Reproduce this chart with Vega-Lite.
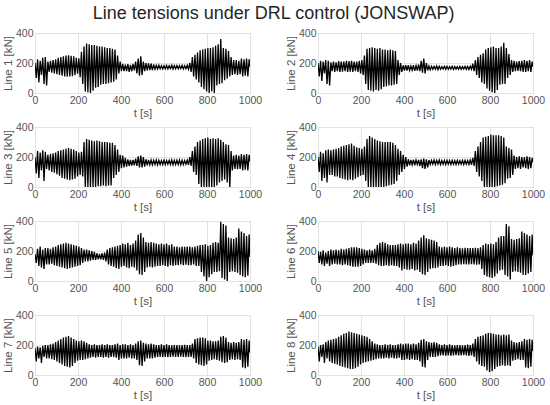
{
"$schema": "https://vega.github.io/schema/vega-lite/v6.json",
"padding": {"left": 1, "right": 5, "top": 4, "bottom": 5},
"title": {"text": "Line tensions under DRL control (JONSWAP)", "fontSize": 18, "fontWeight": "normal", "color": "#262626", "font": "Liberation Sans", "anchor": "middle", "offset": 5},
"datasets": {"d": [
{"t":0,"l1":200,"l2":200,"l3":200,"l4":200,"l5":180,"l6":200,"l7":180,"l8":190},
{"t":6,"l1":100,"l2":110,"l3":90,"l4":100,"l5":120,"l6":120,"l7":90,"l8":90},
{"t":12,"l1":225,"l2":215,"l3":240,"l4":235,"l5":215,"l6":195,"l7":190,"l8":200},
{"t":18,"l1":70,"l2":80,"l3":60,"l4":40,"l5":100,"l6":110,"l7":110,"l8":120},
{"t":24,"l1":215,"l2":210,"l3":230,"l4":225,"l5":230,"l6":205,"l7":185,"l8":205},
{"t":30,"l1":120,"l2":130,"l3":110,"l4":60,"l5":90,"l6":100,"l7":80,"l8":80},
{"t":36,"l1":235,"l2":220,"l3":245,"l4":245,"l5":210,"l6":190,"l7":195,"l8":220},
{"t":42,"l1":60,"l2":60,"l3":40,"l4":30,"l5":80,"l6":115,"l7":120,"l8":110},
{"t":48,"l1":240,"l2":215,"l3":235,"l4":250,"l5":220,"l6":200,"l7":200,"l8":230},
{"t":54,"l1":50,"l2":50,"l3":120,"l4":80,"l5":110,"l6":100,"l7":110,"l8":90},
{"t":60,"l1":210,"l2":205,"l3":215,"l4":245,"l5":220,"l6":210,"l7":200,"l8":235},
{"t":66,"l1":140,"l2":145,"l3":110,"l4":80,"l5":110,"l6":110,"l7":110,"l8":80},
{"t":72,"l1":215,"l2":210,"l3":220,"l4":250,"l5":215,"l6":205,"l7":205,"l8":240},
{"t":78,"l1":135,"l2":140,"l3":100,"l4":70,"l5":115,"l6":115,"l7":105,"l8":75},
{"t":84,"l1":220,"l2":205,"l3":225,"l4":255,"l5":225,"l6":210,"l7":210,"l8":245},
{"t":90,"l1":130,"l2":145,"l3":95,"l4":70,"l5":105,"l6":110,"l7":100,"l8":70},
{"t":96,"l1":225,"l2":212,"l3":230,"l4":260,"l5":230,"l6":205,"l7":220,"l8":255},
{"t":102,"l1":125,"l2":140,"l3":85,"l4":60,"l5":100,"l6":110,"l7":90,"l8":60},
{"t":108,"l1":235,"l2":210,"l3":240,"l4":270,"l5":240,"l6":215,"l7":230,"l8":265},
{"t":114,"l1":120,"l2":142,"l3":75,"l4":55,"l5":95,"l6":105,"l7":80,"l8":55},
{"t":120,"l1":240,"l2":210,"l3":245,"l4":275,"l5":245,"l6":210,"l7":240,"l8":275},
{"t":126,"l1":115,"l2":145,"l3":60,"l4":50,"l5":90,"l6":110,"l7":70,"l8":50},
{"t":132,"l1":245,"l2":215,"l3":250,"l4":280,"l5":250,"l6":215,"l7":250,"l8":280},
{"t":138,"l1":110,"l2":140,"l3":55,"l4":45,"l5":85,"l6":105,"l7":60,"l8":45},
{"t":144,"l1":250,"l2":212,"l3":255,"l4":285,"l5":255,"l6":220,"l7":255,"l8":290},
{"t":150,"l1":108,"l2":143,"l3":50,"l4":50,"l5":80,"l6":100,"l7":55,"l8":40},
{"t":156,"l1":252,"l2":215,"l3":260,"l4":290,"l5":250,"l6":225,"l7":260,"l8":285},
{"t":162,"l1":110,"l2":140,"l3":45,"l4":45,"l5":85,"l6":95,"l7":50,"l8":40},
{"t":168,"l1":248,"l2":210,"l3":255,"l4":275,"l5":245,"l6":225,"l7":250,"l8":280},
{"t":174,"l1":112,"l2":145,"l3":50,"l4":55,"l5":90,"l6":95,"l7":60,"l8":45},
{"t":180,"l1":245,"l2":210,"l3":250,"l4":265,"l5":240,"l6":225,"l7":240,"l8":275},
{"t":186,"l1":118,"l2":140,"l3":55,"l4":65,"l5":95,"l6":95,"l7":80,"l8":55},
{"t":192,"l1":235,"l2":215,"l3":240,"l4":260,"l5":235,"l6":220,"l7":230,"l8":270},
{"t":198,"l1":128,"l2":130,"l3":70,"l4":75,"l5":100,"l6":100,"l7":95,"l8":70},
{"t":204,"l1":232,"l2":220,"l3":230,"l4":255,"l5":230,"l6":215,"l7":225,"l8":265},
{"t":210,"l1":105,"l2":120,"l3":80,"l4":80,"l5":105,"l6":110,"l7":100,"l8":80},
{"t":216,"l1":275,"l2":250,"l3":235,"l4":270,"l5":220,"l6":210,"l7":230,"l8":260},
{"t":222,"l1":60,"l2":60,"l3":70,"l4":40,"l5":120,"l6":120,"l7":100,"l8":85},
{"t":228,"l1":310,"l2":295,"l3":300,"l4":320,"l5":210,"l6":205,"l7":225,"l8":255},
{"t":234,"l1":10,"l2":20,"l3":0,"l4":0,"l5":130,"l6":120,"l7":105,"l8":90},
{"t":240,"l1":330,"l2":300,"l3":320,"l4":340,"l5":210,"l6":210,"l7":215,"l8":240},
{"t":246,"l1":5,"l2":15,"l3":0,"l4":0,"l5":130,"l6":120,"l7":110,"l8":95},
{"t":252,"l1":325,"l2":305,"l3":315,"l4":330,"l5":205,"l6":205,"l7":205,"l8":225},
{"t":258,"l1":0,"l2":10,"l3":0,"l4":0,"l5":135,"l6":120,"l7":115,"l8":100},
{"t":264,"l1":320,"l2":300,"l3":310,"l4":320,"l5":200,"l6":215,"l7":200,"l8":210},
{"t":270,"l1":15,"l2":20,"l3":0,"l4":0,"l5":140,"l6":115,"l7":120,"l8":105},
{"t":276,"l1":320,"l2":295,"l3":305,"l4":310,"l5":195,"l6":240,"l7":205,"l8":205},
{"t":282,"l1":35,"l2":15,"l3":0,"l4":0,"l5":140,"l6":105,"l7":115,"l8":110},
{"t":288,"l1":315,"l2":300,"l3":310,"l4":305,"l5":185,"l6":255,"l7":200,"l8":200},
{"t":294,"l1":40,"l2":25,"l3":5,"l4":0,"l5":145,"l6":100,"l7":120,"l8":110},
{"t":300,"l1":310,"l2":290,"l3":305,"l4":300,"l5":180,"l6":260,"l7":200,"l8":200},
{"t":306,"l1":55,"l2":40,"l3":5,"l4":0,"l5":145,"l6":100,"l7":120,"l8":110},
{"t":312,"l1":310,"l2":290,"l3":300,"l4":300,"l5":185,"l6":255,"l7":205,"l8":205},
{"t":318,"l1":60,"l2":45,"l3":10,"l4":5,"l5":140,"l6":105,"l7":115,"l8":115},
{"t":324,"l1":305,"l2":285,"l3":300,"l4":300,"l5":190,"l6":245,"l7":200,"l8":200},
{"t":330,"l1":60,"l2":50,"l3":5,"l4":10,"l5":130,"l6":100,"l7":120,"l8":110},
{"t":336,"l1":300,"l2":290,"l3":300,"l4":300,"l5":210,"l6":240,"l7":205,"l8":205},
{"t":342,"l1":65,"l2":50,"l3":10,"l4":15,"l5":110,"l6":105,"l7":115,"l8":115},
{"t":348,"l1":300,"l2":285,"l3":295,"l4":295,"l5":220,"l6":240,"l7":200,"l8":200},
{"t":354,"l1":70,"l2":55,"l3":10,"l4":20,"l5":100,"l6":100,"l7":120,"l8":110},
{"t":360,"l1":295,"l2":280,"l3":295,"l4":280,"l5":225,"l6":240,"l7":200,"l8":200},
{"t":366,"l1":75,"l2":60,"l3":60,"l4":40,"l5":95,"l6":100,"l7":120,"l8":110},
{"t":372,"l1":290,"l2":220,"l3":280,"l4":255,"l5":230,"l6":245,"l7":205,"l8":205},
{"t":378,"l1":90,"l2":120,"l3":80,"l4":80,"l5":85,"l6":90,"l7":115,"l8":115},
{"t":384,"l1":250,"l2":200,"l3":250,"l4":240,"l5":235,"l6":250,"l7":210,"l8":210},
{"t":390,"l1":130,"l2":140,"l3":100,"l4":100,"l5":80,"l6":70,"l7":100,"l8":100},
{"t":396,"l1":210,"l2":185,"l3":215,"l4":215,"l5":240,"l6":245,"l7":200,"l8":205},
{"t":402,"l1":145,"l2":150,"l3":125,"l4":120,"l5":95,"l6":80,"l7":110,"l8":100},
{"t":408,"l1":195,"l2":185,"l3":210,"l4":200,"l5":250,"l6":250,"l7":205,"l8":210},
{"t":414,"l1":145,"l2":150,"l3":130,"l4":135,"l5":100,"l6":75,"l7":110,"l8":105},
{"t":420,"l1":190,"l2":185,"l3":195,"l4":185,"l5":245,"l6":250,"l7":205,"l8":210},
{"t":426,"l1":145,"l2":150,"l3":135,"l4":145,"l5":90,"l6":75,"l7":110,"l8":100},
{"t":432,"l1":192,"l2":180,"l3":185,"l4":180,"l5":255,"l6":245,"l7":200,"l8":205},
{"t":438,"l1":140,"l2":152,"l3":140,"l4":148,"l5":85,"l6":80,"l7":115,"l8":105},
{"t":444,"l1":188,"l2":185,"l3":180,"l4":182,"l5":240,"l6":255,"l7":205,"l8":210},
{"t":450,"l1":145,"l2":148,"l3":142,"l4":145,"l5":95,"l6":70,"l7":110,"l8":100},
{"t":456,"l1":195,"l2":182,"l3":180,"l4":180,"l5":250,"l6":250,"l7":200,"l8":205},
{"t":462,"l1":150,"l2":150,"l3":145,"l4":150,"l5":90,"l6":75,"l7":110,"l8":100},
{"t":468,"l1":210,"l2":190,"l3":190,"l4":180,"l5":270,"l6":270,"l7":210,"l8":215},
{"t":474,"l1":130,"l2":145,"l3":140,"l4":140,"l5":70,"l6":60,"l7":100,"l8":90},
{"t":480,"l1":230,"l2":215,"l3":205,"l4":185,"l5":310,"l6":290,"l7":225,"l8":235},
{"t":486,"l1":115,"l2":135,"l3":130,"l4":125,"l5":45,"l6":45,"l7":65,"l8":55},
{"t":492,"l1":245,"l2":230,"l3":210,"l4":190,"l5":320,"l6":305,"l7":230,"l8":240},
{"t":498,"l1":120,"l2":130,"l3":130,"l4":120,"l5":40,"l6":40,"l7":60,"l8":50},
{"t":504,"l1":210,"l2":200,"l3":200,"l4":185,"l5":290,"l6":285,"l7":215,"l8":225},
{"t":510,"l1":145,"l2":150,"l3":135,"l4":130,"l5":60,"l6":60,"l7":90,"l8":100},
{"t":516,"l1":200,"l2":180,"l3":185,"l4":180,"l5":260,"l6":280,"l7":210,"l8":220},
{"t":522,"l1":150,"l2":155,"l3":145,"l4":150,"l5":90,"l6":80,"l7":110,"l8":120},
{"t":528,"l1":198,"l2":178,"l3":180,"l4":178,"l5":255,"l6":275,"l7":205,"l8":215},
{"t":534,"l1":152,"l2":158,"l3":148,"l4":152,"l5":95,"l6":85,"l7":110,"l8":120},
{"t":540,"l1":195,"l2":178,"l3":180,"l4":180,"l5":260,"l6":270,"l7":210,"l8":220},
{"t":546,"l1":152,"l2":158,"l3":148,"l4":150,"l5":90,"l6":85,"l7":110,"l8":120},
{"t":552,"l1":190,"l2":180,"l3":178,"l4":178,"l5":255,"l6":260,"l7":205,"l8":215},
{"t":558,"l1":158,"l2":155,"l3":150,"l4":152,"l5":95,"l6":90,"l7":115,"l8":125},
{"t":564,"l1":185,"l2":178,"l3":180,"l4":180,"l5":250,"l6":230,"l7":200,"l8":205},
{"t":570,"l1":160,"l2":158,"l3":148,"l4":150,"l5":100,"l6":100,"l7":120,"l8":130},
{"t":576,"l1":185,"l2":176,"l3":178,"l4":176,"l5":245,"l6":225,"l7":200,"l8":200},
{"t":582,"l1":162,"l2":160,"l3":150,"l4":152,"l5":100,"l6":100,"l7":120,"l8":130},
{"t":588,"l1":182,"l2":178,"l3":176,"l4":178,"l5":250,"l6":230,"l7":205,"l8":205},
{"t":594,"l1":160,"l2":158,"l3":150,"l4":150,"l5":105,"l6":105,"l7":118,"l8":128},
{"t":600,"l1":182,"l2":178,"l3":178,"l4":178,"l5":245,"l6":225,"l7":200,"l8":200},
{"t":606,"l1":162,"l2":158,"l3":150,"l4":152,"l5":100,"l6":100,"l7":120,"l8":130},
{"t":612,"l1":184,"l2":176,"l3":176,"l4":176,"l5":250,"l6":230,"l7":205,"l8":205},
{"t":618,"l1":160,"l2":160,"l3":152,"l4":150,"l5":95,"l6":95,"l7":118,"l8":128},
{"t":624,"l1":182,"l2":178,"l3":178,"l4":178,"l5":240,"l6":225,"l7":200,"l8":200},
{"t":630,"l1":163,"l2":157,"l3":150,"l4":152,"l5":105,"l6":100,"l7":120,"l8":130},
{"t":636,"l1":185,"l2":177,"l3":180,"l4":176,"l5":245,"l6":220,"l7":198,"l8":198},
{"t":642,"l1":160,"l2":160,"l3":148,"l4":150,"l5":100,"l6":105,"l7":122,"l8":132},
{"t":648,"l1":183,"l2":176,"l3":178,"l4":178,"l5":230,"l6":225,"l7":200,"l8":200},
{"t":654,"l1":162,"l2":158,"l3":150,"l4":152,"l5":105,"l6":110,"l7":120,"l8":130},
{"t":660,"l1":183,"l2":178,"l3":178,"l4":176,"l5":230,"l6":220,"l7":200,"l8":200},
{"t":666,"l1":162,"l2":158,"l3":150,"l4":152,"l5":105,"l6":110,"l7":120,"l8":130},
{"t":672,"l1":182,"l2":176,"l3":180,"l4":178,"l5":225,"l6":218,"l7":198,"l8":198},
{"t":678,"l1":163,"l2":160,"l3":148,"l4":150,"l5":110,"l6":112,"l7":122,"l8":132},
{"t":684,"l1":184,"l2":178,"l3":178,"l4":178,"l5":230,"l6":222,"l7":200,"l8":200},
{"t":690,"l1":160,"l2":158,"l3":150,"l4":152,"l5":105,"l6":110,"l7":120,"l8":130},
{"t":696,"l1":182,"l2":177,"l3":176,"l4":176,"l5":228,"l6":220,"l7":202,"l8":202},
{"t":702,"l1":162,"l2":157,"l3":152,"l4":150,"l5":108,"l6":110,"l7":118,"l8":128},
{"t":708,"l1":185,"l2":178,"l3":180,"l4":180,"l5":230,"l6":220,"l7":200,"l8":200},
{"t":714,"l1":158,"l2":158,"l3":148,"l4":148,"l5":105,"l6":112,"l7":120,"l8":130},
{"t":720,"l1":200,"l2":195,"l3":200,"l4":195,"l5":230,"l6":220,"l7":200,"l8":210},
{"t":726,"l1":140,"l2":145,"l3":140,"l4":140,"l5":105,"l6":110,"l7":120,"l8":120},
{"t":732,"l1":240,"l2":220,"l3":240,"l4":240,"l5":225,"l6":222,"l7":210,"l8":240},
{"t":738,"l1":110,"l2":120,"l3":100,"l4":100,"l5":110,"l6":108,"l7":110,"l8":90},
{"t":744,"l1":255,"l2":240,"l3":270,"l4":270,"l5":230,"l6":220,"l7":240,"l8":255},
{"t":750,"l1":90,"l2":100,"l3":80,"l4":70,"l5":100,"l6":110,"l7":80,"l8":70},
{"t":756,"l1":270,"l2":255,"l3":300,"l4":300,"l5":235,"l6":225,"l7":245,"l8":260},
{"t":762,"l1":70,"l2":70,"l3":20,"l4":40,"l5":100,"l6":80,"l7":70,"l8":60},
{"t":768,"l1":285,"l2":265,"l3":310,"l4":330,"l5":240,"l6":240,"l7":250,"l8":265},
{"t":774,"l1":40,"l2":60,"l3":0,"l4":0,"l5":60,"l6":40,"l7":65,"l8":55},
{"t":780,"l1":290,"l2":290,"l3":320,"l4":335,"l5":240,"l6":250,"l7":250,"l8":275},
{"t":786,"l1":25,"l2":30,"l3":0,"l4":0,"l5":30,"l6":30,"l7":60,"l8":30},
{"t":792,"l1":295,"l2":300,"l3":325,"l4":340,"l5":245,"l6":245,"l7":245,"l8":280},
{"t":798,"l1":10,"l2":15,"l3":0,"l4":0,"l5":0,"l6":25,"l7":70,"l8":20},
{"t":804,"l1":300,"l2":305,"l3":330,"l4":350,"l5":235,"l6":250,"l7":230,"l8":280},
{"t":810,"l1":0,"l2":5,"l3":0,"l4":0,"l5":25,"l6":20,"l7":95,"l8":25},
{"t":816,"l1":300,"l2":310,"l3":320,"l4":345,"l5":240,"l6":245,"l7":230,"l8":275},
{"t":822,"l1":10,"l2":0,"l3":0,"l4":0,"l5":45,"l6":30,"l7":100,"l8":40},
{"t":828,"l1":305,"l2":300,"l3":325,"l4":345,"l5":255,"l6":260,"l7":225,"l8":270},
{"t":834,"l1":0,"l2":20,"l3":0,"l4":5,"l5":60,"l6":50,"l7":105,"l8":55},
{"t":840,"l1":315,"l2":300,"l3":320,"l4":345,"l5":260,"l6":290,"l7":225,"l8":270},
{"t":846,"l1":50,"l2":55,"l3":10,"l4":10,"l5":60,"l6":70,"l7":100,"l8":60},
{"t":852,"l1":325,"l2":310,"l3":325,"l4":340,"l5":255,"l6":300,"l7":230,"l8":265},
{"t":858,"l1":60,"l2":60,"l3":30,"l4":15,"l5":65,"l6":75,"l7":95,"l8":65},
{"t":864,"l1":360,"l2":335,"l3":315,"l4":330,"l5":395,"l6":300,"l7":255,"l8":270},
{"t":870,"l1":65,"l2":60,"l3":40,"l4":25,"l5":20,"l6":40,"l7":85,"l8":60},
{"t":876,"l1":300,"l2":300,"l3":300,"l4":270,"l5":380,"l6":380,"l7":260,"l8":265},
{"t":882,"l1":85,"l2":100,"l3":50,"l4":55,"l5":10,"l6":30,"l7":80,"l8":65},
{"t":888,"l1":295,"l2":260,"l3":285,"l4":260,"l5":370,"l6":365,"l7":250,"l8":270},
{"t":894,"l1":95,"l2":120,"l3":30,"l4":60,"l5":0,"l6":10,"l7":85,"l8":60},
{"t":900,"l1":280,"l2":220,"l3":280,"l4":250,"l5":290,"l6":280,"l7":220,"l8":230},
{"t":906,"l1":110,"l2":140,"l3":0,"l4":80,"l5":60,"l6":60,"l7":100,"l8":95},
{"t":912,"l1":240,"l2":215,"l3":240,"l4":210,"l5":285,"l6":275,"l7":215,"l8":220},
{"t":918,"l1":120,"l2":145,"l3":110,"l4":120,"l5":65,"l6":65,"l7":105,"l8":100},
{"t":924,"l1":220,"l2":210,"l3":210,"l4":200,"l5":280,"l6":280,"l7":220,"l8":215},
{"t":930,"l1":125,"l2":148,"l3":120,"l4":125,"l5":60,"l6":60,"l7":100,"l8":105},
{"t":936,"l1":220,"l2":212,"l3":215,"l4":205,"l5":290,"l6":285,"l7":215,"l8":220},
{"t":942,"l1":120,"l2":145,"l3":118,"l4":120,"l5":55,"l6":55,"l7":105,"l8":100},
{"t":948,"l1":215,"l2":215,"l3":210,"l4":200,"l5":350,"l6":330,"l7":220,"l8":225},
{"t":954,"l1":125,"l2":140,"l3":120,"l4":130,"l5":40,"l6":40,"l7":100,"l8":100},
{"t":960,"l1":230,"l2":220,"l3":220,"l4":200,"l5":330,"l6":320,"l7":240,"l8":240},
{"t":966,"l1":110,"l2":140,"l3":110,"l4":125,"l5":30,"l6":40,"l7":50,"l8":50},
{"t":972,"l1":225,"l2":215,"l3":215,"l4":205,"l5":320,"l6":310,"l7":235,"l8":235},
{"t":978,"l1":115,"l2":145,"l3":115,"l4":120,"l5":25,"l6":50,"l7":45,"l8":45},
{"t":984,"l1":230,"l2":220,"l3":220,"l4":200,"l5":300,"l6":300,"l7":240,"l8":240},
{"t":990,"l1":110,"l2":140,"l3":110,"l4":125,"l5":35,"l6":60,"l7":55,"l8":55},
{"t":996,"l1":225,"l2":210,"l3":215,"l4":195,"l5":310,"l6":310,"l7":230,"l8":235},
{"t":1000,"l1":175,"l2":175,"l3":170,"l4":165,"l5":160,"l6":170,"l7":150,"l8":160}
]},
"data": {"name": "d"},
"columns": 2,
"bounds": "flush",
"spacing": {"row": 34, "column": 68},
"concat": [
{"width":215,"height":60,"mark":{"type":"line","color":"#000","strokeWidth":1.3,"clip":true},"encoding":{"x":{"field":"t","type":"quantitative","scale":{"domain":[0,1000]},"axis":{"values":[0,200,400,600,800,1000],"format":"d","title":"t [s]"}},"y":{"field":"l1","type":"quantitative","scale":{"domain":[0,400]},"axis":{"values":[0,200,400],"format":"d","title":"Line 1 [kN]"}}}},
{"width":215,"height":60,"mark":{"type":"line","color":"#000","strokeWidth":1.3,"clip":true},"encoding":{"x":{"field":"t","type":"quantitative","scale":{"domain":[0,1000]},"axis":{"values":[0,200,400,600,800,1000],"format":"d","title":"t [s]"}},"y":{"field":"l2","type":"quantitative","scale":{"domain":[0,400]},"axis":{"values":[0,200,400],"format":"d","title":"Line 2 [kN]"}}}},
{"width":215,"height":60,"mark":{"type":"line","color":"#000","strokeWidth":1.3,"clip":true},"encoding":{"x":{"field":"t","type":"quantitative","scale":{"domain":[0,1000]},"axis":{"values":[0,200,400,600,800,1000],"format":"d","title":"t [s]"}},"y":{"field":"l3","type":"quantitative","scale":{"domain":[0,400]},"axis":{"values":[0,200,400],"format":"d","title":"Line 3 [kN]"}}}},
{"width":215,"height":60,"mark":{"type":"line","color":"#000","strokeWidth":1.3,"clip":true},"encoding":{"x":{"field":"t","type":"quantitative","scale":{"domain":[0,1000]},"axis":{"values":[0,200,400,600,800,1000],"format":"d","title":"t [s]"}},"y":{"field":"l4","type":"quantitative","scale":{"domain":[0,400]},"axis":{"values":[0,200,400],"format":"d","title":"Line 4 [kN]"}}}},
{"width":215,"height":60,"mark":{"type":"line","color":"#000","strokeWidth":1.3,"clip":true},"encoding":{"x":{"field":"t","type":"quantitative","scale":{"domain":[0,1000]},"axis":{"values":[0,200,400,600,800,1000],"format":"d","title":"t [s]"}},"y":{"field":"l5","type":"quantitative","scale":{"domain":[0,400]},"axis":{"values":[0,200,400],"format":"d","title":"Line 5 [kN]"}}}},
{"width":215,"height":60,"mark":{"type":"line","color":"#000","strokeWidth":1.3,"clip":true},"encoding":{"x":{"field":"t","type":"quantitative","scale":{"domain":[0,1000]},"axis":{"values":[0,200,400,600,800,1000],"format":"d","title":"t [s]"}},"y":{"field":"l6","type":"quantitative","scale":{"domain":[0,400]},"axis":{"values":[0,200,400],"format":"d","title":"Line 6 [kN]"}}}},
{"width":215,"height":60,"mark":{"type":"line","color":"#000","strokeWidth":1.3,"clip":true},"encoding":{"x":{"field":"t","type":"quantitative","scale":{"domain":[0,1000]},"axis":{"values":[0,200,400,600,800,1000],"format":"d","title":"t [s]"}},"y":{"field":"l7","type":"quantitative","scale":{"domain":[0,400]},"axis":{"values":[0,200,400],"format":"d","title":"Line 7 [kN]"}}}},
{"width":215,"height":60,"mark":{"type":"line","color":"#000","strokeWidth":1.3,"clip":true},"encoding":{"x":{"field":"t","type":"quantitative","scale":{"domain":[0,1000]},"axis":{"values":[0,200,400,600,800,1000],"format":"d","title":"t [s]"}},"y":{"field":"l8","type":"quantitative","scale":{"domain":[0,400]},"axis":{"values":[0,200,400],"format":"d","title":"Line 8 [kN]"}}}}
],
"config": {
"font": "Liberation Sans",
"view": {"stroke": "#a6a6a6", "strokeWidth": 1},
"axis": {"labelFont": "Liberation Sans", "titleFont": "Liberation Sans", "labelFontSize": 10.5, "titleFontSize": 11.5, "titleFontWeight": "normal", "labelColor": "#555555", "titleColor": "#555555", "domain": false, "ticks": false, "gridColor": "#e3e3e3", "labelPadding": 2, "titlePadding": 2, "labelFlush": false, "labelOverlap": false}
}
}
